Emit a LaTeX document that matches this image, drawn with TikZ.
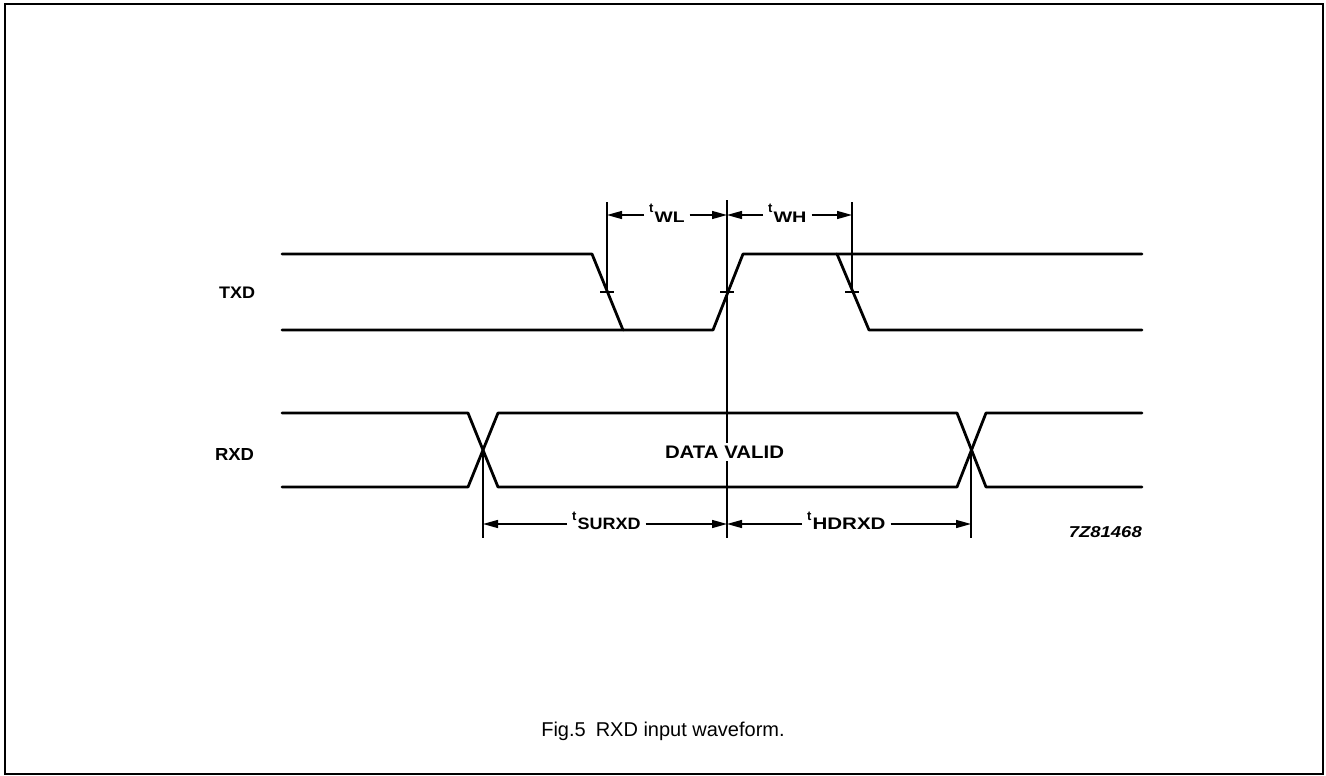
\documentclass[tikz,border=0pt]{standalone}
\usepackage{fontspec}
\setmainfont{Liberation Sans}
\usepackage{graphicx}
\usetikzlibrary{arrows.meta}
\newcommand{\stretchtxt}[3]{\resizebox{#1pt}{#2pt}{#3}}
\newcommand{\smallt}[1]{\raisebox{#1pt}{\fontsize{13}{14}\selectfont\bfseries t}\hspace{1pt}}
\begin{document}
\begin{tikzpicture}[x=1pt,y=-1pt,
  wave/.style={line width=2.8pt, line join=round, line cap=round},
  guide/.style={line width=1.4pt},
  dimarrow/.style={line width=1.4pt, -{Triangle[length=15pt,width=8pt]}},
  lbl/.style={font=\bfseries, inner sep=0pt, anchor=base},
  dimlbl/.style={font=\bfseries, inner ysep=0pt, inner xsep=5pt, anchor=base west},
  frame/.style={line width=2pt}]
\useasboundingbox (0,0) rectangle (1326,776);
\draw[frame] (5,4) rectangle (1323,774);

% TXD waveform
\coordinate (txA) at (282,254);
\coordinate (txB) at (592,254);
\coordinate (txC) at (623,330);
\coordinate (txD) at (282,330);
\coordinate (txE) at (713,330);
\coordinate (txF) at (743,254);
\coordinate (txG) at (1142,254);
\coordinate (txH) at (837,254);
\coordinate (txI) at (869,330);
\coordinate (txJ) at (1142,330);
\draw[wave] (txA) -- (txB) -- (txC);
\draw[wave] (txD) -- (txE) -- (txF) -- (txG);
\draw[wave] (txH) -- (txI) -- (txJ);

% RXD waveform
\coordinate (rxA) at (282,413);
\coordinate (rxB) at (468,413);
\coordinate (rxC) at (498,487);
\coordinate (rxD) at (957,487);
\coordinate (rxE) at (986,413);
\coordinate (rxF) at (1142,413);
\coordinate (rxG) at (282,487);
\coordinate (rxH) at (468,487);
\coordinate (rxI) at (498,413);
\coordinate (rxJ) at (957,413);
\coordinate (rxK) at (986,487);
\coordinate (rxL) at (1142,487);
\draw[wave] (rxA) -- (rxB) -- (rxC) -- (rxD) -- (rxE) -- (rxF);
\draw[wave] (rxG) -- (rxH) -- (rxI) -- (rxJ) -- (rxK) -- (rxL);

% guide lines
\coordinate (v1top) at (607,202);
\coordinate (v1bot) at (607,292);
\coordinate (v2top) at (727,200);
\coordinate (v2bot) at (727,538);
\coordinate (v3top) at (852,202);
\coordinate (v3bot) at (852,292);
\coordinate (x1) at (483,450);
\coordinate (x1bot) at (483,538);
\coordinate (x2) at (971,450);
\coordinate (x2bot) at (971,538);
\coordinate (tk2) at (727,292);
\draw[guide] (v1top) -- (v1bot);
\draw[guide] (v2top) -- (v2bot);
\draw[guide] (v3top) -- (v3bot);
\draw[guide] (x1) -- (x1bot);
\draw[guide] (x2) -- (x2bot);
\draw[guide] ([xshift=-7pt]v1bot) -- ([xshift=7pt]v1bot);
\draw[guide] ([xshift=-7pt]tk2) -- ([xshift=7pt]tk2);
\draw[guide] ([xshift=-7pt]v3bot) -- ([xshift=7pt]v3bot);

% signal labels
\node[lbl] (txd) at (237,298) {\stretchtxt{36}{11.5}{TXD}};
\node[lbl] (rxd) at (234.5,460) {\stretchtxt{39}{12}{RXD}};
\node[lbl, fill=white, inner ysep=3pt, inner xsep=2pt] (dv) at (724.5,458) {\stretchtxt{119}{12.5}{DATA VALID}};
\node[lbl, anchor=base east] (ref) at (1142,537) {\stretchtxt{73}{11}{\itshape 7Z81468}};

% dimension arrows (top)
\coordinate (a1) at (607,215);
\coordinate (a2) at (727,215);
\coordinate (a3) at (852,215);
\node[dimlbl] (twl) at (644,222) {\smallt{10}\stretchtxt{30}{10.5}{WL}};
\node[dimlbl] (twh) at (763,222) {\smallt{10}\stretchtxt{33}{10.5}{WH}};
\draw[dimarrow] (twl.west |- a1) -- (a1);
\draw[dimarrow] (twl.east |- a1) -- (a2);
\draw[dimarrow] (twh.west |- a2) -- (a2);
\draw[dimarrow] (twh.east |- a3) -- (a3);

% dimension arrows (bottom)
\coordinate (b1) at (483,524);
\coordinate (b2) at (727,524);
\coordinate (b3) at (971,524);
\node[dimlbl] (tsu) at (567,529) {\smallt{9}\stretchtxt{63}{11.5}{SURXD}};
\node[dimlbl] (thd) at (802,529) {\smallt{9}\stretchtxt{73}{11.5}{HDRXD}};
\draw[dimarrow] (tsu.west |- b1) -- (b1);
\draw[dimarrow] (tsu.east |- b1) -- (b2);
\draw[dimarrow] (thd.west |- b2) -- (b2);
\draw[dimarrow] (thd.east |- b3) -- (b3);

% caption
\node[font=\fontsize{20}{24}\selectfont, anchor=center] (cap) at (663,731) {Fig.5\hspace{0.5em}RXD input waveform.};
\end{tikzpicture}
\end{document}
